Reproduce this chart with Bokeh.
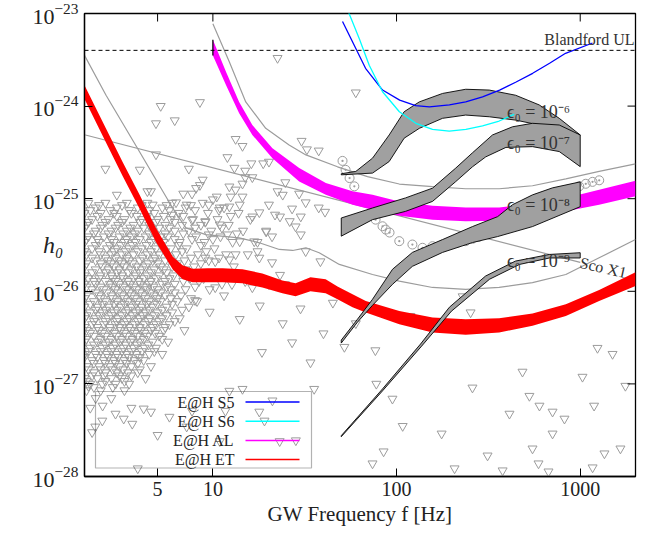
import math
from bokeh.plotting import figure
from bokeh.models import (Range1d, FixedTicker, Label, BoxAnnotation, Arrow, Span,
                          BasicTickFormatter)
from bokeh.embed import file_html
from bokeh.resources import INLINE

# ---------------- data ----------------
x_lo, x_hi = 2, 2000
y_lo, y_hi = 1e-28, 1e-23
x_ticks = [5, 10, 100, 1000]
y_ticks = [1e-28, 1e-27, 1e-26, 1e-25, 1e-24, 1e-23]
blandford_ul = 4e-24

# Einstein@Home S5 / S6 upper limits
s5_f = [50.8, 67.8, 83.9, 104, 127, 151, 194, 238, 294, 364, 445, 551, 681, 832, 1167]
s5_h = [8.2e-24, 2.56e-24, 1.49e-24, 1.16e-24, 1.01e-24, 9.8e-25, 1.03e-24, 1.11e-24,
        1.26e-24, 1.49e-24, 1.81e-24, 2.26e-24, 2.90e-24, 3.72e-24, 4.80e-24]
s6_f = [52, 55.3, 62.7, 71.0, 83.9, 103.6, 127.4, 157, 193.6, 238.5, 294, 362, 437]
s6_h = [1.3e-23, 9.9e-24, 5.35e-24, 2.76e-24, 1.43e-24, 8.69e-25, 6.52e-25, 5.61e-25,
        5.38e-25, 5.61e-25, 6.10e-25, 6.90e-25, 8.15e-25]

# Advanced LIGO band (magenta)
al_f = [10, 11.8, 13.9, 16.4, 21.1, 29.5, 41.2, 57.6, 74, 103.5, 157, 238, 362, 550, 835, 1268, 2000]
al_hi = [5.21e-24, 2.34e-24, 1.11e-24, 6.25e-25, 3.51e-25, 2.14e-25, 1.48e-25, 1.20e-25, 1.10e-25,
         9.35e-26, 8.41e-26, 8.05e-26, 8.05e-26, 8.77e-26, 1.02e-25, 1.25e-25, 1.56e-25]
al_lo = [3.53e-24, 1.68e-24, 8.36e-25, 4.88e-25, 2.74e-25, 1.53e-25, 1.10e-25, 8.61e-26, 7.62e-26,
         6.56e-26, 5.94e-26, 5.70e-26, 5.79e-26, 6.30e-26, 7.30e-26, 8.61e-26, 1.06e-25]

# Einstein Telescope band (red)
et_f = [2.0, 2.61, 3.22, 3.99, 4.88, 6.04, 6.84, 7.75, 9.35, 11.3, 14.5, 18.6, 23.9, 28.2, 34.0,
        41.1, 47.7, 57.6, 68.0, 103.5, 157, 238, 362, 550, 835, 1268, 2000]
et_hi = [1.68e-24, 5.79e-25, 2.50e-25, 1.10e-25, 4.88e-26, 2.38e-26, 1.91e-26, 1.75e-26, 1.77e-26,
         1.77e-26, 1.73e-26, 1.56e-26, 1.31e-26, 1.22e-26, 1.42e-26, 1.35e-26, 1.13e-26, 9.29e-27,
         7.87e-27, 6.14e-27, 5.21e-27, 5.00e-27, 5.13e-27, 5.75e-27, 7.24e-27, 1.03e-26, 1.61e-26]
et_lo = [1.19e-24, 4.10e-25, 1.77e-25, 7.80e-26, 3.45e-26, 1.73e-26, 1.35e-26, 1.25e-26, 1.25e-26,
         1.25e-26, 1.22e-26, 1.10e-26, 9.51e-27, 8.83e-27, 1.00e-26, 9.51e-27, 8.20e-27, 6.73e-27,
         5.90e-27, 4.42e-27, 3.60e-27, 3.39e-27, 3.60e-27, 4.24e-27, 5.42e-27, 7.87e-27, 1.14e-26]

# grey sensitivity curves
ge_f = [2.0, 2.62, 3.98, 6.04, 7.13, 9.16, 13.9, 17.9, 23.0, 27.2, 32.1, 37.9, 48.8, 74, 103.5,
        157, 238, 362, 550, 835, 1268, 2000]
ge_h = [3.53e-24, 1.31e-24, 3.23e-25, 7.94e-26, 4.84e-26, 4.10e-26, 3.78e-26, 3.34e-26, 2.83e-26,
        2.76e-26, 2.95e-26, 2.61e-26, 1.95e-26, 1.52e-26, 1.29e-26, 1.10e-26, 1.05e-26, 1.10e-26,
        1.24e-26, 1.52e-26, 2.30e-26, 3.62e-26]
ga_f = [10, 12.3, 15.1, 19.4, 26.0, 32.1, 47.7, 69.5, 103.5, 157, 238, 362, 550, 835, 1268, 2000]
ga_h = [7.75e-24, 2.99e-24, 1.11e-24, 5.75e-25, 3.81e-25, 2.97e-25, 2.21e-25, 1.73e-25, 1.44e-25,
        1.35e-25, 1.28e-25, 1.28e-25, 1.38e-25, 1.64e-25, 1.97e-25, 2.38e-25]
sco_f = [2, 1000]
sco_h = [4.9e-25, 2.05e-26]

# epsilon contour bands (upper edge / lower edge)
e6_fu = [50, 60, 74, 91.2, 110, 133, 178, 238, 320, 445, 598, 769, 1000]
e6_hu = [1.86e-25, 1.97e-25, 2.74e-25, 4.88e-25, 8.69e-25, 1.11e-24, 1.37e-24, 1.52e-24, 1.49e-24,
         1.31e-24, 1.03e-24, 7.38e-25, 4.88e-25]
e6_fl = [50, 74, 91.2, 110, 133, 178, 238, 320, 445, 598, 769, 1000]
e6_hl = [1.81e-25, 1.89e-25, 2.52e-25, 4.50e-25, 5.75e-25, 7.38e-25, 8.00e-25, 7.67e-25, 7.06e-25,
         6.25e-25, 5.52e-25, 4.88e-25]
e7_fu = [50, 74, 112, 157, 210, 259, 333, 428, 550, 769, 1000]
e7_hu = [6.19e-26, 7.94e-26, 1.02e-25, 1.30e-25, 2.14e-25, 3.13e-25, 4.88e-25, 5.98e-25, 6.52e-25,
         6.25e-25, 4.88e-25]
e7_fl = [50, 74, 112, 157, 210, 259, 306, 394, 550, 769, 1000]
e7_hl = [3.94e-26, 5.94e-26, 7.30e-26, 9.35e-26, 1.53e-25, 2.21e-25, 2.83e-25, 3.58e-25, 3.65e-25,
         3.23e-25, 2.22e-25]
e8_fu = [50, 61.3, 74, 95.1, 122, 178, 259, 355, 428, 550, 707, 1000]
e8_hu = [2.97e-27, 5.00e-27, 8.20e-27, 1.73e-26, 2.63e-26, 3.62e-26, 5.00e-26, 6.40e-26, 8.61e-26,
         1.10e-25, 1.31e-25, 1.52e-25]
e8_fl = [50, 61.3, 74, 95.1, 122, 178, 259, 355, 550, 1000]
e8_hl = [2.76e-27, 4.65e-27, 7.06e-27, 1.19e-26, 1.86e-26, 2.63e-26, 3.36e-26, 3.90e-26, 5.00e-26,
         8.20e-26]
e9_fu = [50, 83.9, 135, 194, 305, 444, 680, 1000]
e9_hu = [2.76e-28, 8.83e-28, 2.69e-27, 6.73e-27, 1.46e-26, 2.12e-26, 2.50e-26, 2.61e-26]
e9_fl = [50, 83.9, 137, 199, 321, 467, 680, 1000]
e9_hl = [2.69e-28, 8.41e-28, 2.56e-27, 6.10e-27, 1.35e-26, 1.95e-26, 2.29e-26, 2.29e-26]

eps_labels = ["\u03f5\u2080 = 10\u207b\u2076", "\u03f5\u2080 = 10\u207b\u2077",
              "\u03f5\u2080 = 10\u207b\u2078", "\u03f5\u2080 = 10\u207b\u2079"]
eps_label_f = [400, 400, 400, 400]
eps_label_h = [8.69e-25, 3.97e-25, 8.61e-26, 2.12e-26]

# known pulsars (circles)
circ_f = [50.8, 52.8, 55.5, 58.9, 76.9, 83.9, 87.4, 91.6, 103.5, 122, 138.5, 157, 178, 197, 215,
          238, 259, 279, 294, 313, 333, 362, 394, 428, 473, 988, 1072, 1167, 1269]
circ_h = [2.56e-25, 2.05e-25, 1.67e-25, 1.36e-25, 5.94e-26, 5.04e-26, 4.64e-26, 4.31e-26, 3.48e-26,
          3.20e-26, 2.95e-26, 3.07e-26, 3.20e-26, 3.28e-26, 3.36e-26, 3.48e-26, 3.69e-26, 3.86e-26,
          4.06e-26, 4.21e-26, 4.38e-26, 4.64e-26, 4.84e-26, 5.13e-26, 5.38e-26, 1.36e-25, 1.45e-25,
          1.52e-25, 1.58e-25]

# candidate sources (triangles): dense low-frequency population, row by row
cluster_rows = [
    (9e-26, [2.1, 2.6, 3.4, 4.4, 6.0, 8.8]),
    (8.5e-26, [2.4, 3.2, 4.1, 5.6, 7.6]),
    (8e-26, [2.3, 3.0, 3.9, 5.3, 7.1, 11.5]),
    (7.5e-26, [2.15, 2.75, 3.5, 4.5, 5.8, 8.0, 10.8]),
    (7e-26, [2.0, 2.45, 2.9, 3.6, 4.8, 6.5, 9.4, 13.8]),
    (6.5e-26, [2.35, 3.0, 3.85, 4.4, 5.4, 6.9, 12.5]),
    (6e-26, [2.2, 2.7, 3.3, 4.1, 5.0, 5.9, 7.8, 10.6, 16.0]),
    (5.6e-26, [2.1, 2.6, 3.2, 4.0, 4.9, 6.2, 9.1]),
    (5.2e-26, [2.05, 2.5, 3.05, 3.7, 4.5, 5.5, 6.8, 8.6, 12.2]),
    (4.85e-26, [2.0, 2.45, 2.95, 3.55, 4.2, 5.1, 5.8, 8.0, 11.2]),
    (4.5e-26, [2.3, 2.8, 3.4, 3.9, 4.7, 6.2, 7.4, 9.8, 14.6, 19.5]),
    (4.2e-26, [2.25, 2.7, 3.25, 3.75, 4.5, 5.5, 6.9, 13.5]),
    (3.9e-26, [2.1, 2.55, 3.1, 3.6, 4.3, 5.2, 5.7, 8.1, 11.0]),
    (3.65e-26, [2.05, 2.35, 2.8, 3.4, 4.0, 4.8, 6.2, 7.7, 10.0]),
    (3.4e-26, [2.0, 2.4, 2.9, 3.3, 3.8, 4.6, 5.4, 6.6, 9.0, 12.8, 17.5]),
    (3.15e-26, [2.3, 2.75, 3.15, 3.65, 4.35, 5.2, 6.5, 8.6]),
    (2.9e-26, [2.2, 2.65, 3.0, 3.5, 4.1, 4.9, 5.9, 7.2, 10.2]),
    (2.7e-26, [2.0, 2.4, 2.9, 3.35, 3.9, 4.6, 5.5, 6.8, 9.2]),
    (2.5e-26, [2.05, 2.45, 2.8, 3.2, 3.7, 4.4, 5.1, 6.3, 8.3, 11.8, 15.5]),
    (2.3e-26, [2.2, 2.6, 2.95, 3.4, 4.15, 4.85, 5.8, 7.6, 10.8]),
    (2.15e-26, [2.3, 2.7, 3.1, 3.5, 4.0, 4.7, 5.5, 7.0, 9.5]),
    (2.0e-26, [2.05, 2.45, 2.8, 3.2, 3.65, 4.45, 5.0, 6.4, 8.6]),
    (1.85e-26, [2.0, 2.5, 2.9, 3.3, 3.85, 4.3, 5.2, 6.0, 7.9, 13.0]),
    (1.72e-26, [2.3, 2.7, 3.1, 3.6, 4.1, 4.8, 5.4, 7.1]),
    (1.6e-26, [2.2, 2.6, 3.0, 3.45, 4.0, 4.6, 5.6, 6.6, 10.4]),
    (1.48e-26, [2.0, 2.45, 2.8, 3.2, 3.8, 4.4, 5.1, 6.1, 9.4]),
    (1.38e-26, [2.1, 2.4, 2.85, 3.25, 3.7, 4.2, 4.9, 5.8, 7.5, 8.9]),
    (1.29e-26, [2.25, 2.6, 2.95, 3.45, 3.95, 4.6, 5.5, 6.9]),
    (1.2e-26, [2.0, 2.3, 2.75, 3.1, 3.55, 4.05, 4.5, 5.3, 6.2, 11.2]),
    (1.12e-26, [2.05, 2.45, 2.85, 3.25, 3.7, 4.25, 4.75, 5.6, 8.0]),
    (1.05e-26, [2.2, 2.55, 2.95, 3.4, 3.85, 4.4, 5.0, 5.9, 7.1, 9.6]),
    (9.7e-27, [2.3, 2.65, 3.05, 3.5, 4.0, 4.6, 5.2, 6.2]),
    (9e-27, [2.05, 2.4, 2.8, 3.2, 3.6, 4.15, 4.8, 5.5, 6.7]),
    (8.4e-27, [2.0, 2.45, 2.85, 3.3, 3.75, 4.3, 5.0, 5.9, 7.6]),
    (7.8e-27, [2.25, 2.6, 3.0, 3.45, 3.9, 4.5, 5.2, 6.4, 8.2]),
    (7.3e-27, [2.15, 2.5, 2.9, 3.3, 3.8, 4.35, 4.95, 6.0]),
    (6.8e-27, [2.0, 2.35, 2.7, 3.15, 3.6, 4.1, 4.7, 5.6, 7.4]),
    (6.3e-27, [2.3, 2.6, 3.0, 3.45, 3.95, 4.5, 5.3, 6.8]),
    (5.9e-27, [2.15, 2.5, 2.9, 3.35, 3.8, 4.3, 5.0, 6.0]),
    (5.5e-27, [2.05, 2.4, 2.8, 3.2, 3.65, 4.15, 4.8, 5.6]),
    (5.1e-27, [2.0, 2.3, 2.7, 3.05, 3.5, 4.0, 4.55, 5.3, 6.6]),
    (4.75e-27, [2.25, 2.6, 3.0, 3.4, 3.9, 4.45, 5.1, 6.2]),
    (4.4e-27, [2.2, 2.55, 2.95, 3.3, 3.75, 4.25, 4.9, 5.8]),
    (4.1e-27, [2.0, 2.35, 2.75, 3.1, 3.5, 4.0, 4.7, 5.5]),
    (3.8e-27, [2.05, 2.4, 2.75, 3.15, 3.6, 4.05, 4.6, 5.4, 7.0]),
    (3.55e-27, [2.15, 2.5, 2.9, 3.3, 3.75, 4.25, 4.85]),
    (3.3e-27, [2.25, 2.6, 3.0, 3.4, 3.9, 4.4, 5.1]),
    (3.05e-27, [2.05, 2.45, 2.8, 3.2, 3.65, 4.2, 5.3]),
    (2.85e-27, [2.0, 2.35, 2.7, 3.1, 3.55, 4.0, 4.7, 5.7]),
    (2.65e-27, [2.25, 2.6, 2.95, 3.35, 3.85, 4.45]),
    (2.45e-27, [2.15, 2.5, 2.85, 3.25, 3.7, 4.25, 4.9]),
    (2.25e-27, [2.1, 2.45, 2.8, 3.2, 3.6, 4.1, 4.8]),
    (2.1e-27, [2.0, 2.3, 2.65, 3.0, 3.4, 3.85, 4.5, 5.3]),
    (1.95e-27, [2.0, 2.35, 2.7, 3.05, 3.5, 4.0]),
    (1.8e-27, [2.2, 2.55, 2.9, 3.3, 3.75, 4.2]),
    (1.68e-27, [2.25, 2.6, 2.95, 3.4, 3.9]),
    (1.55e-27, [2.05, 2.4, 2.75, 3.1, 3.6, 4.6]),
    (1.43e-27, [2.1, 2.45, 2.85, 3.25, 4.0]),
    (1.33e-27, [2.25, 2.6, 3.0, 3.45, 3.9]),
    (1.23e-27, [2.2, 2.55, 3.1, 3.6]),
    (1.15e-27, [2.0, 2.35, 2.8, 3.2, 4.3]),
    (1.07e-27, [2.05, 2.6, 3.3]),
    (1e-27, [2.15, 2.5, 2.95, 3.5]),
    (9.2e-28, [2.25, 2.85]),
    (8.5e-28, [2.05, 2.45, 3.3]),
    (7e-28, [2.3, 2.8]),
    (5.5e-28, [2.15, 3.6]),
    (4e-28, [2.5]),
    (3e-28, [2.2]),
]
scatter_f = [22.5, 5.2, 8.5, 4.9, 6.2, 60, 13.3, 14.5, 30.4, 32.5, 37.7, 12, 4.9, 2.6, 4.0, 7.4,
             13.1, 15, 16.2, 18.8, 20.2, 15, 16.4, 8.8, 8.5, 8.1, 4.6, 3.0, 12.3, 13.3, 14.5, 22.5,
             24, 29.5, 24.8, 10.5, 10, 12.5, 14.5, 7.7, 6.9, 4.4,
             4.7, 6.3, 7.2, 9.5, 10.9, 12.3, 14, 17.9, 20.2, 21.8, 27, 32, 37.7, 40.8, 16.4, 23.2,
             26.2, 30.1, 28.2, 30.1, 19.5, 21, 16.8, 14, 12, 9.5, 10.9, 9.1, 7.7, 6, 13.3, 17.5,
             23.2, 32, 38.5, 9.1, 10.3, 12.3, 17.9, 21, 24.7, 20.2, 16.4, 12.7, 10.3, 15, 8.4, 7.4,
             2.51, 2.29, 2.95, 3.27, 3.64, 4.2, 4.6, 5.8, 5.0, 3.9, 7.7, 7.2, 10.9, 11.7, 17.9,
             19.1, 21.1, 23.1, 28.3, 35.6, 14.5, 12.3, 2.1,
             229, 253, 119, 76.7, 77.6, 95, 259, 108, 176, 85, 207, 485, 600, 707, 821, 1242, 1500,
             1029, 1190, 1762, 707, 550, 593, 672, 378, 1168, 1355, 1656, 313, 412, 529, 74,
             8.0, 9.6, 11.5, 14, 18, 24, 30, 45, 40, 27, 60, 18.5, 34, 52]
scatter_h = [3.3e-24, 1.0e-24, 1.1e-24, 6.5e-25, 7e-25, 1.4e-24, 4.4e-25, 3.7e-25, 4.2e-25, 3.4e-25,
             3.3e-25, 2.8e-25, 3e-25, 2.1e-25, 2.05e-25, 2.1e-25, 2.15e-25, 2e-25, 2.4e-25, 2.4e-25,
             2.5e-25, 1.7e-25, 1.7e-25, 1.6e-25, 1.4e-25, 1.3e-25, 1.2e-25, 1.1e-25, 1.35e-25,
             1.25e-25, 1.45e-25, 1.2e-25, 1.1e-25, 1.13e-25, 1.5e-25, 1.05e-25, 9.8e-26, 1.05e-25,
             1.05e-25, 1.13e-25, 1.13e-25, 1.2e-25,
             8.6e-26, 9.1e-26, 8.6e-26, 8.6e-26, 8e-26, 8.2e-26, 8.6e-26, 7.1e-26, 8.6e-26, 6.7e-26,
             7.8e-26, 9.1e-26, 8e-26, 7.2e-26, 6.4e-26, 6.4e-26, 5.7e-26, 6.4e-26, 5e-26, 4.1e-26,
             4.4e-26, 3.9e-26, 3.45e-26, 3.45e-26, 4.1e-26, 4.1e-26, 5.25e-26, 5.7e-26, 5.9e-26,
             6.7e-26, 2.5e-26, 2.7e-26, 1.5e-26, 2.7e-26, 2.1e-26, 2.3e-26, 2.1e-26, 2.2e-26,
             2.3e-26, 2.05e-26, 1.19e-26, 1.19e-26, 1.1e-26, 1.19e-26, 1.1e-26, 1.28e-26, 1.28e-26,
             1.42e-26,
             5.8e-28, 3.45e-28, 4.75e-28, 4.2e-28, 3.7e-28, 5.4e-28, 5e-28, 4.4e-28, 2.8e-28,
             1.22e-28, 5.1e-28, 3.45e-28, 2.4e-28, 5.1e-28, 5e-28, 4e-28, 6.6e-28, 2.4e-28,
             2.45e-28, 8.8e-28, 8.8e-28, 8.4e-28, 9.5e-28,
             8.8e-27, 5.9e-27, 5.4e-27, 2.3e-27, 1e-27, 6.9e-28, 9.1e-28, 3.5e-28, 2.9e-28, 1.86e-28,
             1.22e-28, 1.35e-27, 5.8e-28, 5e-28, 4.2e-28, 2.44e-27, 2.1e-27, 1.19e-27, 5.8e-28,
             9.5e-28, 2.9e-28, 2e-28, 1.38e-28, 1.13e-28, 1.16e-28, 1.25e-28, 1.77e-28, 2e-28,
             1.68e-28, 4.75e-28, 7.4e-28, 1.38e-28,
             8e-27, 6e-27, 9e-27, 5e-27, 7e-27, 4.5e-27, 6.5e-27, 7.5e-27, 3.5e-27, 2.8e-27, 4.5e-27,
             2.2e-27, 1.7e-27, 2.5e-27]

legend_items = [("E@H S5", "#0000ff"), ("E@H S6", "#00ffff"), ("E@H AL", "#ff00ff"), ("E@H ET", "#ff0000")]

tri_f = [f for h, fs in cluster_rows for f in fs] + scatter_f
tri_h = [h for h, fs in cluster_rows for f in fs] + scatter_h

# ---------------- figure ----------------
FONT = "Liberation Serif"
p = figure(frame_width=551, frame_height=463, x_axis_type="log", y_axis_type="log",
           x_range=Range1d(x_lo, x_hi), y_range=Range1d(y_lo, y_hi),
           output_backend="svg", toolbar_location=None,
           min_border_left=84, min_border_right=7, min_border_top=13, min_border_bottom=56)
p.grid.visible = False
p.outline_line_color = "black"
p.outline_line_width = 1.3
p.background_fill_color = "white"
p.border_fill_color = "white"

xax = p.below[0]
yax = p.left[0]
xax.ticker = FixedTicker(ticks=x_ticks)
xax.formatter = BasicTickFormatter()
yax.ticker = FixedTicker(ticks=y_ticks)
for ax in (xax, yax):
    ax.major_tick_in = 8
    ax.major_tick_out = 0
    ax.minor_tick_line_color = None
    ax.axis_line_color = "black"
    ax.axis_line_width = 1.3
    ax.major_tick_line_color = "black"
    ax.major_tick_line_width = 1
    ax.major_label_text_font = FONT
    ax.major_label_text_color = "#222222"
xax.major_label_text_font_size = "20px"
yax.major_label_text_font_size = "22px"
xax.major_label_standoff = 5
yax.major_label_standoff = 6
xax.axis_label = "GW Frequency f [Hz]"
xax.axis_label_text_font = FONT
xax.axis_label_text_font_size = "21px"
xax.axis_label_text_font_style = "normal"
xax.axis_label_text_color = "#222222"
xax.axis_label_standoff = 3

yax.axis_label = "h\u2080"
yax.axis_label_text_font = FONT
yax.axis_label_text_font_size = "24px"
yax.axis_label_text_font_style = "italic"
yax.axis_label_text_color = "#222222"
yax.axis_label_standoff = -34
try:
    yax.axis_label_orientation = "horizontal"
except AttributeError:
    pass

GREY = "#9c9c9c"
# triangles (candidate sources)
p.scatter(tri_f, tri_h, marker="inverted_triangle", size=9, fill_color=None,
          line_color=GREY, line_width=1)
# grey sensitivity curves
p.line(ge_f, ge_h, line_color=GREY, line_width=1.2)
p.line(ga_f, ga_h, line_color=GREY, line_width=1.2)
p.line(sco_f, sco_h, line_color=GREY, line_width=1.2)
# AL and ET bands
p.varea(x=al_f, y1=al_lo, y2=al_hi, fill_color="#ff00ff")
p.segment(x0=al_f[:1], y0=al_lo[:1], x1=al_f[:1], y1=al_hi[:1], line_color="black", line_width=1.2)
p.varea(x=et_f, y1=et_lo, y2=et_hi, fill_color="#ff0000")
# circles (known pulsars)
p.scatter(circ_f, circ_h, marker="circle_dot", size=9, fill_color=None, line_color=GREY, line_width=1)
# epsilon bands
for fu, hu, fl, hl in [(e6_fu, e6_hu, e6_fl, e6_hl), (e7_fu, e7_hu, e7_fl, e7_hl),
                       (e8_fu, e8_hu, e8_fl, e8_hl), (e9_fu, e9_hu, e9_fl, e9_hl)]:
    p.patch(x=fu + fl[::-1], y=hu + hl[::-1], fill_color="#a0a0a0", line_color="black", line_width=0.9)
# S5 and S6 curves
p.line(s5_f, s5_h, line_color="#0000ff", line_width=1.3)
p.line(s6_f, s6_h, line_color="#00ffff", line_width=1.3)

# mirrored inward ticks on top and right frame edges (clipped to the frame)
p.scatter(x=x_ticks, y=[y_hi] * len(x_ticks), marker="dash", angle=math.pi / 2, size=16,
          line_color="black", line_width=1)
p.scatter(x=[x_hi] * len(y_ticks), y=y_ticks, marker="dash", size=16,
          line_color="black", line_width=1)

# Blandford upper limit
p.add_layout(Span(location=blandford_ul, dimension="width", line_color="black",
                  line_width=1, line_dash="4 3"))
p.add_layout(Label(x=x_hi, y=blandford_ul, text="Blandford UL", text_align="right",
                   text_baseline="bottom", x_offset=-1, y_offset=2, text_font=FONT,
                   text_font_size="16px", text_color="#333333"))

for t, xf, yh in zip(eps_labels, eps_label_f, eps_label_h):
    p.add_layout(Label(x=xf, y=yh, text=t, text_align="left", text_baseline="middle",
                       text_font=FONT, text_font_size="18px", text_color="#333333"))
p.add_layout(Label(x=sco_f[-1], y=sco_h[-1], text="Sco X1", text_align="left",
                   text_baseline="middle", angle=-0.22, text_font=FONT,
                   text_font_size="16px", text_color="#333333"))

# legend (text left, sample line right)
p.add_layout(BoxAnnotation(left=11, right=227, top=85, bottom=8.5, left_units="screen",
                           right_units="screen", top_units="screen", bottom_units="screen",
                           fill_color=None, fill_alpha=0, line_color="black", line_width=1.2))
for i, (name, col) in enumerate(legend_items):
    yy = 74.5 - i * 19.2
    p.add_layout(Label(x=150, y=yy, x_units="screen", y_units="screen", text=name,
                       text_align="right", text_baseline="middle", text_font=FONT,
                       text_font_size="16px", text_color="#222222"))
    p.add_layout(Arrow(end=None, x_start=161, y_start=yy, x_end=215, y_end=yy,
                       start_units="screen", end_units="screen", line_color=col, line_width=1.5))

open("out.html", "w").write(file_html(p, INLINE))
